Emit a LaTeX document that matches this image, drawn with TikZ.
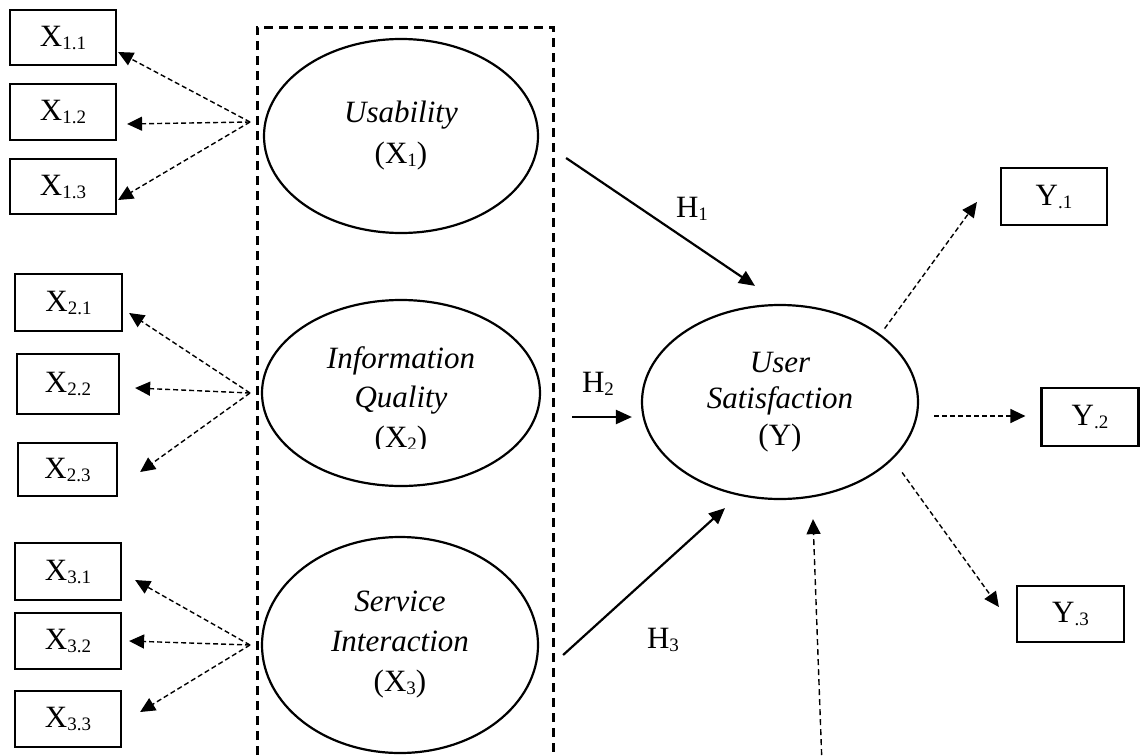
\documentclass[tikz,border=0pt]{standalone}
\usepackage{fontspec}
\setmainfont{Liberation Serif}
\usetikzlibrary{shapes.geometric,arrows.meta}
\newcommand{\sbx}[1]{\raisebox{-3pt}{\fontsize{19pt}{19pt}\selectfont #1}}
\begin{document}
\begin{tikzpicture}[x=1pt,y=-1pt,
  ind/.style={draw,line width=2.2pt,inner sep=0pt,font=\fontsize{31pt}{36pt}\selectfont},
  lat/.style={draw,ellipse,line width=2.2pt,inner sep=0pt,align=center},
  lattext/.style={inner sep=0pt,align=center},
  dsh/.style={line width=1.4pt,dash pattern=on 5pt off 3pt,-{Triangle[length=15pt,width=14pt]}},
  dshb/.style={line width=1.4pt,dash pattern=on 6pt off 4pt,-{Triangle[length=15pt,width=14pt]}},
  sol/.style={line width=2.2pt,-{Triangle[length=16pt,width=14pt]}},
  hlab/.style={inner sep=0pt,font=\fontsize{31pt}{36pt}\selectfont},
  grp/.style={line width=3pt,dash pattern=on 9pt off 6pt}
]
\useasboundingbox[fill=white] (0,0) rectangle (1140,755);

% group box
\draw[grp] (257,770) -- (257,27) -- (553,27) -- (553,770);

% indicator boxes
\node[ind,minimum width=106pt,minimum height=55pt] (x11) at (63,37.5) {X\sbx{1.1}};
\node[ind,minimum width=106pt,minimum height=56pt] (x12) at (63,112) {X\sbx{1.2}};
\node[ind,minimum width=106pt,minimum height=55pt] (x13) at (63,186.5) {X\sbx{1.3}};
\node[ind,minimum width=107pt,minimum height=57pt] (x21) at (68.5,302.5) {X\sbx{2.1}};
\node[ind,minimum width=102pt,minimum height=60pt] (x22) at (68,384) {X\sbx{2.2}};
\node[ind,minimum width=99pt,minimum height=53pt] (x23) at (67.5,469.5) {X\sbx{2.3}};
\node[ind,minimum width=106pt,minimum height=57pt] (x31) at (68,571.5) {X\sbx{3.1}};
\node[ind,minimum width=106pt,minimum height=56pt] (x32) at (68,641) {X\sbx{3.2}};
\node[ind,minimum width=106pt,minimum height=56pt] (x33) at (68,719) {X\sbx{3.3}};
\node[ind,minimum width=106pt,minimum height=57pt] (y1) at (1054,196.5) {Y\sbx{.1}};
\node[ind,minimum width=97pt,minimum height=58pt] (y2) at (1090,417) {Y\sbx{.2}};
\node[ind,minimum width=107pt,minimum height=56pt] (y3) at (1070.5,614) {Y\sbx{.3}};

% latent variables
\node[lat,minimum width=274pt,minimum height=194pt,font=\fontsize{31pt}{41pt}\selectfont\itshape] (us) at (401,136) {Usability\\\textup{(X\sbx{1})}};
\node[lat,minimum width=278pt,minimum height=186pt] (iq) at (401,393) {};
\begin{scope}
\clip (300,330) rectangle (500,448);
\node[lattext,font=\fontsize{31pt}{39.5pt}\selectfont\itshape] (iqt) at (401,400) {Information\\Quality\\\textup{(X\sbx{2})}};
\end{scope}
\node[lat,minimum width=276pt,minimum height=216pt,font=\fontsize{31pt}{40pt}\selectfont\itshape] (si) at (400,645) {Service\\Interaction\\\textup{(X\sbx{3})}};
\node[lat,minimum width=276pt,minimum height=194pt,font=\fontsize{31pt}{36.5pt}\selectfont\itshape] (Y) at (780,402) {User\\Satisfaction\\\textup{(Y)}};

% fan origins
\coordinate (f1) at (250,122);
\coordinate (f2) at (250,393);
\coordinate (f3) at (250,645);
\coordinate (b0) at (822,765);

% loadings X1
\draw[dsh] (f1) -- ([xshift=1pt,yshift=-14.5pt]x11.east);
\draw[dsh] (f1) -- ([xshift=10pt,yshift=-12pt]x12.east);
\draw[dsh] (f1) -- ([xshift=1pt,yshift=-13.5pt]x13.east);
% loadings X2
\draw[dsh] (f2) -- ([xshift=6pt,yshift=-10.5pt]x21.east);
\draw[dsh] (f2) -- ([xshift=15pt,yshift=-4pt]x22.east);
\draw[dsh] (f2) -- ([xshift=22pt,yshift=-2.5pt]x23.east);
% loadings X3
\draw[dsh] (f3) -- ([xshift=13pt,yshift=-8.5pt]x31.east);
\draw[dsh] (f3) -- ([xshift=7pt]x32.east);
\draw[dsh] (f3) -- ([xshift=18pt,yshift=7pt]x33.east);
% loadings Y
\draw[dsh,shorten <=7pt] (Y.34) -- ([xshift=-23pt,yshift=-5.5pt]y1.west);
\draw[dsh] ([xshift=15pt,yshift=-14pt]Y.east) -- ([xshift=-15pt,yshift=1pt]y2.west);
\draw[dsh,shorten <=16pt] (Y.-27) -- ([xshift=-17pt,yshift=7pt]y3.west);
% error term
\draw[dshb] (b0) -- ([xshift=33pt,yshift=-19pt]Y.south);

% structural paths
\draw[sol] ([xshift=27pt,yshift=-22pt]us.east) -- ([xshift=-25pt,yshift=18pt]Y.north);
\draw[sol] ([xshift=31pt,yshift=-24pt]iq.east) -- ([xshift=-9pt,yshift=-15pt]Y.west);
\draw[sol] ([xshift=24pt,yshift=-10pt]si.east) -- ([xshift=-55pt,yshift=-8pt]Y.south);

\node[hlab] (h1) at (692,209) {H\sbx{1}};
\node[hlab] (h2) at (598,384) {H\sbx{2}};
\node[hlab] (h3) at (663,640) {H\sbx{3}};
\end{tikzpicture}
\end{document}
